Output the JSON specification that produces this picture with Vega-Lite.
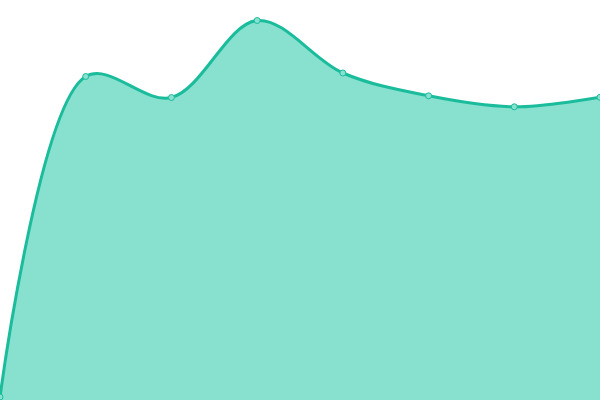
{
  "$schema": "https://vega.github.io/schema/vega-lite/v6.json",
  "width": 600,
  "height": 400,
  "padding": 0,
  "autosize": {"type": "none"},
  "data": {
    "values": [
      {"step": 0, "value": 3},
      {"step": 1, "value": 323.5},
      {"step": 2, "value": 302.5},
      {"step": 3, "value": 379.5},
      {"step": 4, "value": 327},
      {"step": 5, "value": 304.2},
      {"step": 6, "value": 293.2},
      {"step": 7, "value": 302.7}
    ]
  },
  "encoding": {
    "x": {
      "field": "step",
      "type": "quantitative",
      "scale": {"domain": [0, 7], "nice": false},
      "axis": null
    },
    "y": {
      "field": "value",
      "type": "quantitative",
      "scale": {"domain": [0, 400], "nice": false},
      "axis": null
    }
  },
  "layer": [
    {
      "mark": {"type": "area", "interpolate": "catmull-rom", "color": "#88e0cf", "opacity": 1}
    },
    {
      "mark": {"type": "line", "interpolate": "catmull-rom", "color": "#1abc9c", "strokeWidth": 3}
    },
    {
      "mark": {"type": "point", "filled": true, "fill": "#88e0cf", "stroke": "#1abc9c", "strokeWidth": 1, "size": 36, "opacity": 1}
    }
  ],
  "config": {
    "view": {"stroke": null}
  }
}
